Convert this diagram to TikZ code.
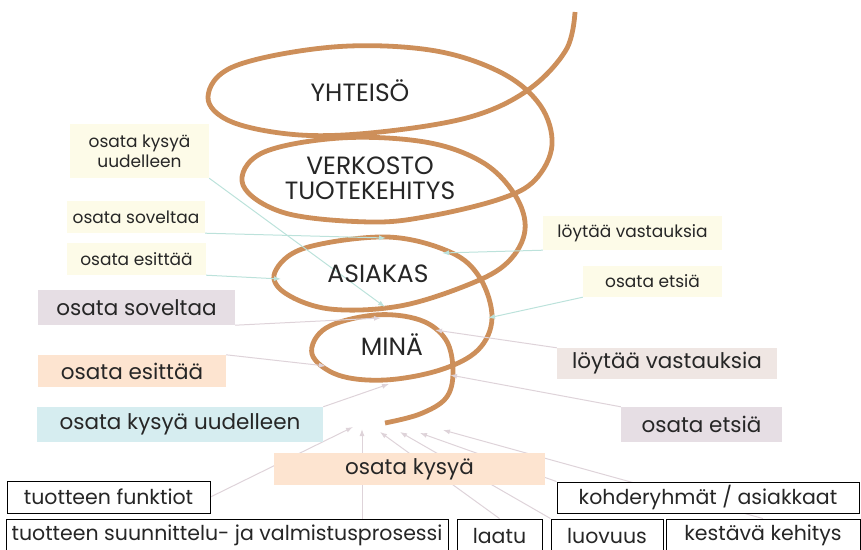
\documentclass[tikz,border=0pt]{standalone}
\usepackage{fontspec}
\setmainfont{Poppins}
\usetikzlibrary{positioning,arrows.meta,backgrounds}

\definecolor{spiralbrown}{RGB}{205,143,90}
\definecolor{mintline}{RGB}{188,226,219}
\definecolor{pinkline}{RGB}{222,211,217}
\definecolor{creambg}{RGB}{253,251,232}
\definecolor{lavenderbg}{RGB}{230,222,228}
\definecolor{peachbg}{RGB}{253,228,208}
\definecolor{bluebg}{RGB}{214,237,240}
\definecolor{rosebg}{RGB}{239,230,227}

\begin{document}
\begin{tikzpicture}[
    x=1pt, y=-1pt,
    every node/.style={inner sep=0pt, align=center, text=black!85},
    smallbox/.style={fill=creambg, font=\fontsize{17}{20}\selectfont},
    bigbox/.style={font=\fontsize{21.5}{23}\selectfont},
    plainbox/.style={draw=black, line width=0.9pt, fill=white, font=\fontsize{20.5}{22}\selectfont},
    looplabel/.style={font=\fontsize{25}{25}\selectfont},
    mintarrow/.style={draw=mintline, line width=1pt, -{Latex[length=7pt,width=5pt]}},
    pinkarrow/.style={draw=pinkline, line width=1pt, -{Latex[length=7pt,width=5pt]}}
]
\useasboundingbox (0,0) rectangle (861,549);

% texts inside the loops
\node[looplabel] (yhteiso) at (360,91) {YHTEISÖ};
\node[looplabel] (verkosto) at (370,178) {VERKOSTO\\TUOTEKEHITYS};
\node[looplabel] (asiakas) at (378,274) {ASIAKAS};
\node[looplabel] (mina) at (392,345) {MINÄ};

% small labels
\node[smallbox, minimum width=139, minimum height=54] (skysyu) at (139.5,151) {osata kysyä\\uudelleen};
\node[smallbox, minimum width=138, minimum height=32] (ssovel) at (136,217) {osata soveltaa};
\node[smallbox, minimum width=139, minimum height=32] (sesit) at (136.5,259) {osata esittää};
\node[smallbox, minimum width=179, minimum height=34] (sloyt) at (632.5,233) {löytää vastauksia};
\node[smallbox, minimum width=139, minimum height=31] (setsi) at (652.5,281.5) {osata etsiä};

% big labels
\node[bigbox, fill=lavenderbg, minimum width=197, minimum height=35] (bsovel) at (136.5,307.5) {osata soveltaa};
\node[bigbox, fill=peachbg, minimum width=188, minimum height=32] (besit) at (132,371) {osata esittää};
\node[bigbox, fill=bluebg, minimum width=286, minimum height=35] (bkysyu) at (180,424.5) {osata kysyä uudelleen};
\node[bigbox, fill=rosebg, minimum width=220, minimum height=31] (bloyt) at (667,363.5) {löytää vastauksia};
\node[bigbox, fill=lavenderbg, minimum width=161, minimum height=35] (betsi) at (701.5,424.5) {osata etsiä};
\node[bigbox, fill=peachbg, minimum width=271, minimum height=32] (bkysy) at (409.5,469) {osata kysyä};

% framed boxes at the bottom
\node[plainbox, minimum width=203, minimum height=32] (funktiot) at (108.5,497) {tuotteen funktiot};
\node[plainbox, minimum width=442, minimum height=33] (prosessi) at (227,535.5) {tuotteen suunnittelu- ja valmistusprosessi};
\node[plainbox, minimum width=85, minimum height=33] (laatu) at (499.5,535.5) {laatu};
\node[plainbox, minimum width=112, minimum height=33] (luovuus) at (607,535.5) {luovuus};
\node[plainbox, minimum width=194, minimum height=33] (kestava) at (763,535.5) {kestävä kehitys};
\node[plainbox, minimum width=302, minimum height=31] (kohde) at (708,497.5) {kohderyhmät / asiakkaat};

% arrow ends on the spiral
\coordinate (tkysyu) at (385,307);
\coordinate (tsovel) at (386,238);
\coordinate (tesit) at (281,279);
\coordinate (tloyt) at (442,253);
\coordinate (tetsi) at (488,318);
\coordinate (usovel) at (381,318);
\coordinate (uesit) at (326,366);
\coordinate (ukysyu) at (389,384);
\coordinate (uloyt) at (435,330);
\coordinate (uetsi) at (450,375);
\coordinate (b1) at (353,427);
\coordinate (b2) at (362,429);
\coordinate (b3) at (380,432);
\coordinate (b4) at (400,432);
\coordinate (b5) at (420,433);
\coordinate (b6) at (443,430);

\begin{scope}[on background layer]
% the spiral
\draw[spiralbrown, line width=4.8pt] plot[smooth, tension=0.6] coordinates {
    (575,12) (566,50) (528,90) (470,117) (380,132) (300,135) (232,122) (208,97)
    (235,66) (333,47) (430,50) (500,72) (540,105) (552,145) (535,180) (500,199)
    (430,216) (370,222) (285,213) (243,185) (262,153) (340,138) (425,142) (482,162)
    (515,195) (525,230) (508,262) (470,284) (400,306) (330,309) (285,293) (275,272)
    (305,248) (387,237) (450,252) (480,278) (492,318) (478,350) (440,370) (385,380)
    (338,375) (312,354) (326,328) (375,315) (420,320) (446,340) (453,372) (446,398)
    (420,414) (385,423)};

% connectors
\draw[mintarrow] (skysyu.south east) -- (tkysyu);
\draw[mintarrow] (ssovel.south east) -- (tsovel);
\draw[mintarrow] (sesit.south east) -- (tesit);
\draw[mintarrow] (sloyt.south west) -- (tloyt);
\draw[mintarrow] (setsi.south west) -- (tetsi);
\draw[pinkarrow] (bsovel.south east) -- (usovel);
\draw[pinkarrow] (besit.north east) -- (uesit);
\draw[pinkarrow] (bkysyu.north east) -- (ukysyu);
\draw[pinkarrow] (bloyt.north west) -- (uloyt);
\draw[pinkarrow] (betsi.north west) -- (uetsi);
\draw[pinkarrow] (funktiot.east) -- (b1);
\draw[pinkarrow] (prosessi.north -| b2) -- (b2);
\draw[pinkarrow] (laatu.north) -- (b3);
\draw[pinkarrow] (luovuus.north west) -- (b4);
\draw[pinkarrow] (kohde.north west) -- (b5);
\draw[pinkarrow] (kestava.north) -- (b6);
\end{scope}
\end{tikzpicture}
\end{document}
